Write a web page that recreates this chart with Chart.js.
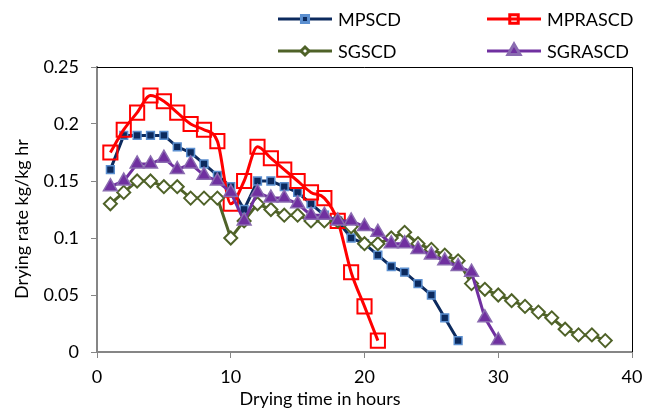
<!DOCTYPE html>
<html>
<head>
<meta charset="utf-8">
<script src="https://cdn.jsdelivr.net/npm/chart.js@4/dist/chart.umd.min.js"></script>
<style>
  html, body { margin: 0; padding: 0; background: #fff; }
  #wrap { width: 647px; height: 412px; }
</style>
</head>
<body>
<div id="wrap"><canvas id="drying-chart" width="647" height="412"></canvas></div>
<script>
// drying time (h)
const hours = [1, 2, 3, 4, 5, 6, 7, 8, 9, 10, 11, 12, 13, 14, 15, 16, 17, 18, 19, 20,
  21, 22, 23, 24, 25, 26, 27, 28, 29, 30, 31, 32, 33, 34, 35, 36, 37, 38];

// drying rate (kg/kg hr)
const mpscd = [0.16, 0.19, 0.19, 0.19, 0.19, 0.18, 0.175, 0.165, 0.155, 0.145,
  0.125, 0.15, 0.15, 0.145, 0.14, 0.13, 0.12, 0.115, 0.10, 0.095,
  0.085, 0.075, 0.07, 0.06, 0.05, 0.03, 0.01];
const mprascd = [0.175, 0.195, 0.21, 0.225, 0.22, 0.21, 0.20, 0.195, 0.185, 0.13,
  0.15, 0.18, 0.17, 0.16, 0.15, 0.14, 0.135, 0.115, 0.07, 0.04, 0.01];
const sgscd = [0.13, 0.14, 0.15, 0.15, 0.145, 0.145, 0.135, 0.135, 0.135, 0.10,
  0.115, 0.13, 0.125, 0.12, 0.12, 0.115, 0.115, 0.115, 0.11, 0.095,
  0.095, 0.10, 0.105, 0.095, 0.09, 0.085, 0.08, 0.06, 0.055, 0.05,
  0.045, 0.04, 0.035, 0.03, 0.02, 0.015, 0.015, 0.01];
const sgrascd = [0.145, 0.15, 0.165, 0.165, 0.17, 0.16, 0.165, 0.155, 0.15, 0.14,
  0.115, 0.14, 0.135, 0.135, 0.13, 0.12, 0.12, 0.115, 0.115, 0.11,
  0.105, 0.095, 0.095, 0.09, 0.085, 0.08, 0.075, 0.07, 0.03, 0.01];

const xTicks = [0, 10, 20, 30, 40];
const yTicks = [0, 0.05, 0.1, 0.15, 0.2, 0.25];
const xTitle = "Drying time in hours";
const yTitle = "Drying rate kg/kg hr";

const FONT = "Lato, 'Liberation Sans', sans-serif";

function points(values) {
  return values.map((v, i) => ({ x: hours[i], y: v }));
}

// legend slots: two rows, two columns
const legendSlots = [
  { x: 278, y: 19 },
  { x: 487, y: 19 },
  { x: 278, y: 51 },
  { x: 487, y: 51 }
];

const boxLegend = {
  id: "boxLegend",
  afterDraw(chart) {
    const ctx = chart.ctx;
    const area = chart.chartArea;

    // black frame round the plot area
    ctx.save();
    ctx.strokeStyle = "#000";
    ctx.lineWidth = 1;
    ctx.beginPath();
    ctx.moveTo(area.left, area.top + 0.5);
    ctx.lineTo(area.right + 0.5, area.top + 0.5);
    ctx.lineTo(area.right + 0.5, area.bottom);
    ctx.stroke();

    // axis titles
    ctx.fillStyle = "#000";
    ctx.font = "18px " + FONT;
    ctx.textAlign = "center";
    ctx.textBaseline = "middle";
    ctx.fillText(xTitle, 320, 399);
    ctx.translate(22, 219);
    ctx.rotate(-Math.PI / 2);
    ctx.fillText(yTitle, 0, 0);
    ctx.restore();

    chart.data.datasets.forEach((ds, i) => {
      const slot = legendSlots[i];
      ctx.save();
      ctx.strokeStyle = ds.borderColor;
      ctx.lineWidth = 3;
      ctx.beginPath();
      ctx.moveTo(slot.x, slot.y);
      ctx.lineTo(slot.x + 54, slot.y);
      ctx.stroke();

      ctx.fillStyle = ds.pointBackgroundColor;
      ctx.strokeStyle = ds.pointBorderColor;
      Chart.helpers.drawPoint(ctx, {
        pointStyle: ds.pointStyle,
        radius: ds.legendRadius,
        rotation: 0,
        borderWidth: ds.pointBorderWidth
      }, slot.x + 27, slot.y);

      ctx.fillStyle = "#000";
      ctx.font = "18px " + FONT;
      ctx.textBaseline = "middle";
      ctx.fillText(ds.label, slot.x + 60, slot.y + 1);
      ctx.restore();
    });
  }
};

new Chart(document.getElementById("drying-chart").getContext("2d"), {
  type: "line",
  data: {
    datasets: [
      {
        label: "MPSCD",
        data: points(mpscd),
        borderColor: "#0c2a5e",
        borderWidth: 3,
        pointStyle: "rect",
        pointRadius: 5.5,
        legendRadius: 5,
        pointBackgroundColor: "#0c2a5e",
        pointBorderColor: "#5b8fd0",
        pointBorderWidth: 1.5,
        order: 4
      },
      {
        label: "MPRASCD",
        data: points(mprascd),
        borderColor: "#ff0000",
        borderWidth: 3,
        cubicInterpolationMode: "monotone",
        pointStyle: "rect",
        pointRadius: 10,
        legendRadius: 6,
        pointBackgroundColor: "rgba(255,255,255,0)",
        pointBorderColor: "#ff0000",
        pointBorderWidth: 2,
        order: 3
      },
      {
        label: "SGSCD",
        data: points(sgscd),
        borderColor: "#4f6228",
        borderWidth: 3,
        pointStyle: "rectRot",
        pointRadius: 6.5,
        legendRadius: 4,
        pointBackgroundColor: "#ffffff",
        pointBorderColor: "#4f6228",
        pointBorderWidth: 2,
        order: 2
      },
      {
        label: "SGRASCD",
        data: points(sgrascd),
        borderColor: "#7030a0",
        borderWidth: 3,
        pointStyle: "triangle",
        pointRadius: 8,
        legendRadius: 7,
        pointBackgroundColor: "#7030a0",
        pointBorderColor: "#8a6bb0",
        pointBorderWidth: 1.5,
        order: 1
      }
    ]
  },
  options: {
    responsive: false,
    animation: false,
    layout: { padding: { top: 67, right: 0, bottom: 0, left: 0 } },
    plugins: {
      legend: { display: false },
      tooltip: { enabled: false }
    },
    scales: {
      x: {
        type: "linear",
        min: 0,
        max: 40,
        afterBuildTicks: scale => { scale.ticks = xTicks.map(v => ({ value: v })); },
        afterFit: scale => {
          scale.height = 60;
          scale.paddingLeft = 0;
          scale.paddingRight = 15;
        },
        grid: { display: true, drawOnChartArea: false, drawTicks: true, tickLength: 6, color: "#868686", lineWidth: 1 },
        border: { display: true, color: "#868686", width: 2 },
        ticks: { color: "#000", font: { family: FONT, size: 18 }, padding: 8, maxRotation: 0 },
        title: { display: false }
      },
      y: {
        min: 0,
        max: 0.25,
        afterBuildTicks: scale => { scale.ticks = yTicks.map(v => ({ value: v })); },
        afterFit: scale => { scale.width = 97; },
        grid: { display: true, drawOnChartArea: false, drawTicks: true, tickLength: 6, color: "#868686", lineWidth: 1 },
        border: { display: true, color: "#868686", width: 2 },
        ticks: { color: "#000", font: { family: FONT, size: 18 }, padding: 12, callback: v => String(+v.toFixed(2)) },
        title: { display: false }
      }
    }
  },
  plugins: [boxLegend]
});
</script>
</body>
</html>
